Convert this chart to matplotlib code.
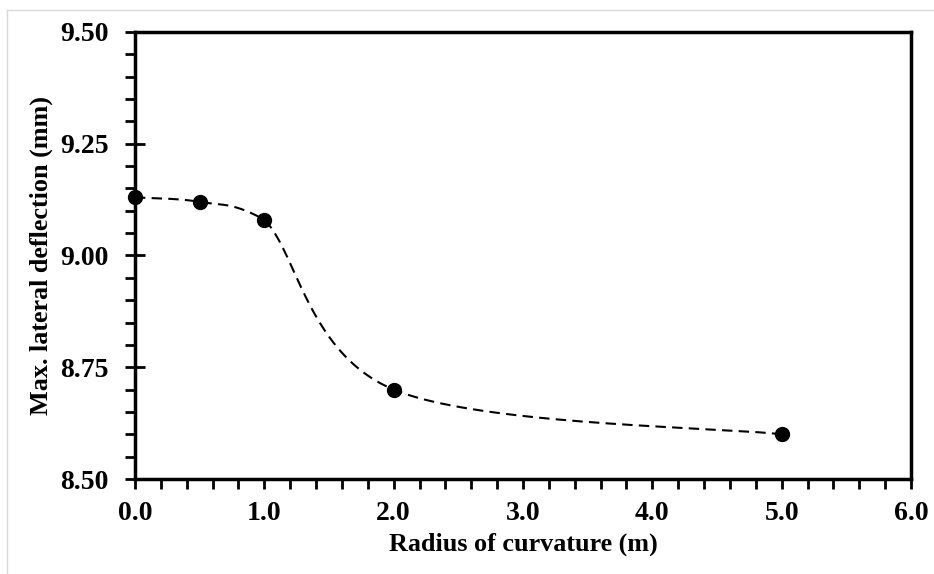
import numpy as np
import matplotlib.pyplot as plt
from matplotlib.ticker import MultipleLocator, FormatStrFormatter
from matplotlib.lines import Line2D

# DATA

radius = [0.0, 0.5, 1.0, 2.0, 5.0]              # radius of curvature, m
deflection = [9.13, 9.12, 9.08, 8.70, 8.60]     # max. lateral deflection, mm


# SMOOTHED LINE (Catmull-Rom Bezier like Excel, control points kept inside each segment's y range)

def smooth_curve(xs, ys, n=80):
    p = np.column_stack([xs, ys]).astype(float)
    out = []
    for i in range(len(p) - 1):
        p0 = p[max(i - 1, 0)]
        p1 = p[i]
        p2 = p[i + 1]
        p3 = p[min(i + 2, len(p) - 1)]
        c1 = p1 + (p2 - p0) / 6.0
        c2 = p2 - (p3 - p1) / 6.0
        lo, hi = min(p1[1], p2[1]), max(p1[1], p2[1])
        c1[1] = np.clip(c1[1], lo, hi)
        c2[1] = np.clip(c2[1], lo, hi)
        t = np.linspace(0, 1, n)[:, None]
        seg = ((1 - t) ** 3) * p1 + 3 * ((1 - t) ** 2) * t * c1 + 3 * (1 - t) * t ** 2 * c2 + t ** 3 * p2
        out.append(seg if i == 0 else seg[1:])
    out = np.vstack(out)
    return out[:, 0], out[:, 1]


plt.rcParams['font.family'] = ['Liberation Serif', 'DejaVu Serif']
plt.rcParams['font.weight'] = 'bold'

fig = plt.figure(figsize=(9.34, 5.74), dpi=100)
ax = fig.add_axes([0.1445, 0.1655, 0.8309, 0.7788])

cx, cy = smooth_curve(radius, deflection)
ax.plot(cx, cy, color='black', linestyle=(0, (5, 3)), linewidth=1.5)
ax.plot(radius, deflection, 'o', color='black', markersize=10, clip_on=False, zorder=5)

ax.set_xlim(0, 6)
ax.set_ylim(8.5, 9.5)
ax.xaxis.set_major_locator(MultipleLocator(1.0))
ax.xaxis.set_minor_locator(MultipleLocator(0.2))
ax.yaxis.set_major_locator(MultipleLocator(0.25))
ax.yaxis.set_minor_locator(MultipleLocator(0.05))
ax.xaxis.set_major_formatter(FormatStrFormatter('%.1f'))
ax.yaxis.set_major_formatter(FormatStrFormatter('%.2f'))

for s in ax.spines.values():
    s.set_linewidth(2.5)

ax.tick_params(axis='x', which='both', direction='out', length=7, width=2, labelsize=20, pad=8.5)
ax.tick_params(axis='y', which='major', direction='inout', length=14, width=2, labelsize=20, pad=12)
ax.tick_params(axis='y', which='minor', direction='out', length=7, width=2)

ax.set_xlabel('Radius of curvature (m)', fontsize=18.8, fontweight='bold', labelpad=5)
ax.set_ylabel('Max. lateral deflection (mm)', fontsize=18.8, fontweight='bold', labelpad=5)

# light frame of the chart area
fig.add_artist(Line2D([7 / 934, 7 / 934], [0, 1 - 10 / 574], transform=fig.transFigure, color='#d9d9d9', linewidth=1))
fig.add_artist(Line2D([7 / 934, 1], [1 - 10 / 574, 1 - 10 / 574], transform=fig.transFigure, color='#d9d9d9', linewidth=1))

fig.savefig('out.png', dpi=100)
